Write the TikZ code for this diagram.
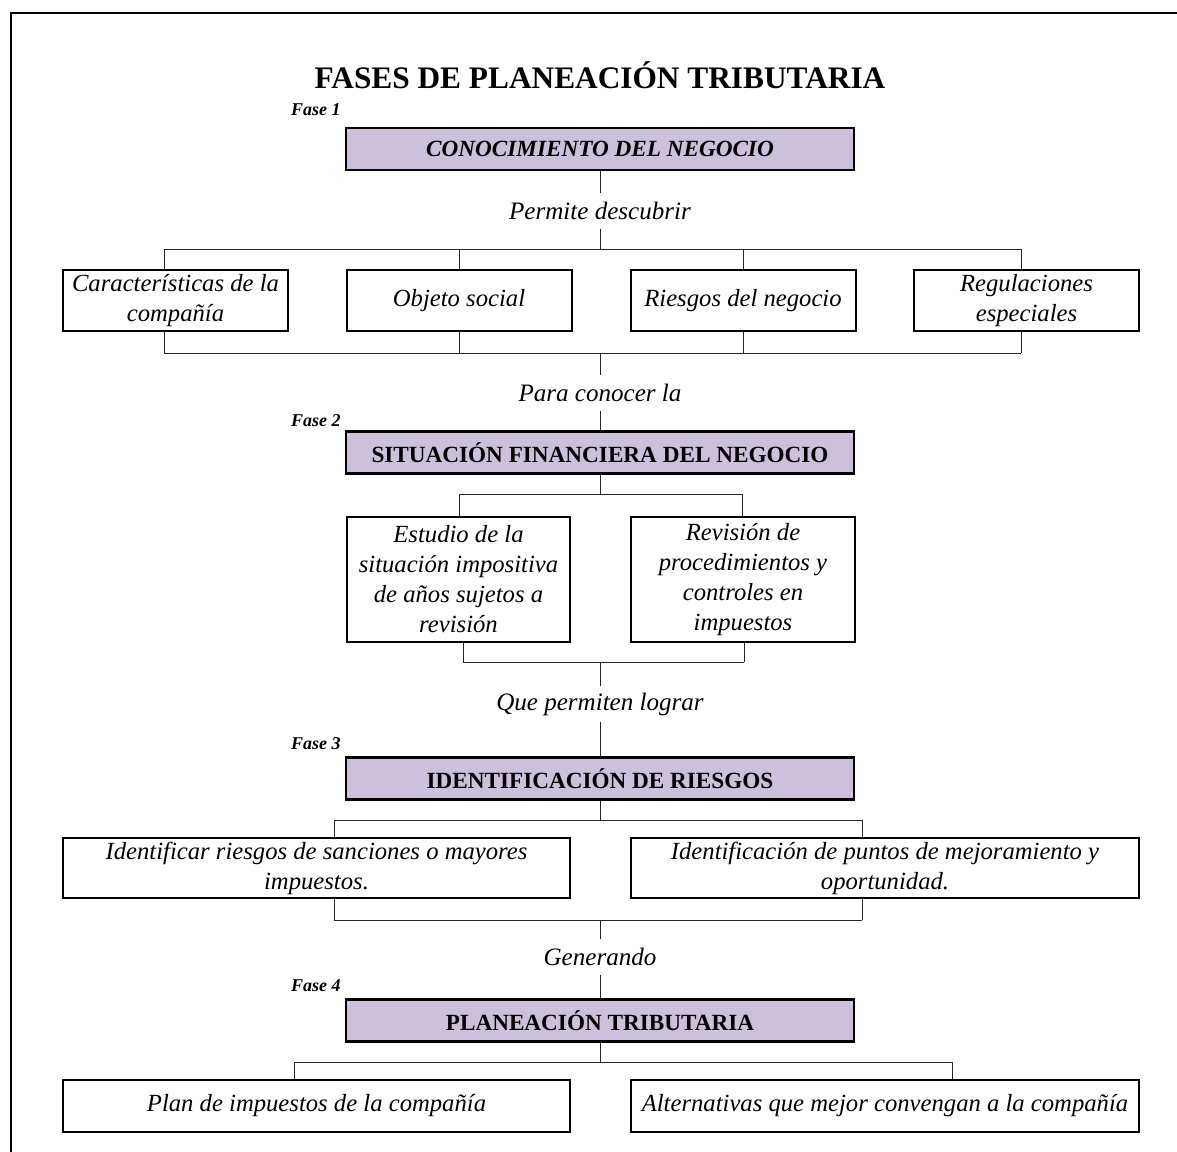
\documentclass[tikz,border=0pt]{standalone}
\usepackage{fontspec}
\setmainfont{Liberation Serif}
\definecolor{lav}{RGB}{204,192,218}
\begin{document}
\begin{tikzpicture}[x=0.75pt,y=-0.75pt,
  frame/.style={line width=1.6pt},
  conn/.style={line width=0.7pt,black!85},
  phase/.style={draw,line width=2.2pt,fill=lav,minimum width=381pt,minimum height=31.5pt,inner sep=0pt,font=\fontsize{17.4}{20}\selectfont\bfseries},
  box/.style={draw,line width=1.5pt,fill=white,inner sep=0pt,align=center,font=\fontsize{18.5}{22.5}\selectfont\itshape},
  lab/.style={inner sep=0pt,minimum height=27pt,font=\fontsize{18.8}{22.5}\selectfont\itshape},
  fase/.style={inner sep=0pt,anchor=east,font=\fontsize{13.5}{16}\selectfont\bfseries\itshape},
  titlestyle/.style={inner sep=0pt,font=\fontsize{23.5}{28}\selectfont\bfseries}]
\useasboundingbox (0,0) rectangle (1177,1152);
% frame
\draw[frame] (11,1152) -- (11,13) -- (1177,13);
% title
\node[titlestyle] (title) at (600,75) {FASES DE PLANEACIÓN TRIBUTARIA};
% Phase 1
\node[fase] (f1) at (341,110) {Fase 1};
\node[phase] (p1) at (600,149) {\itshape CONOCIMIENTO DEL NEGOCIO};
\node[lab] (l1) at (600,211) {Permite descubrir};
\coordinate (u1L) at (164,249);
\coordinate (u1R) at (1021,249);
\node[box,minimum width=168.75pt,minimum height=45.75pt] (a1) at (175.5,300.5) {Características de la\\compañía};
\node[box,minimum width=168.75pt,minimum height=45.75pt] (a2) at (459,300.5) {Objeto social};
\node[box,minimum width=168.75pt,minimum height=45.75pt] (a3) at (743,300.5) {Riesgos del negocio};
\node[box,minimum width=168.75pt,minimum height=45.75pt] (a4) at (1026.5,300.5) {Regulaciones\\especiales};
\coordinate (d1L) at (164,353);
\coordinate (d1R) at (1021,353);
\draw[conn] (p1.south) -- (l1.north);
\draw[conn] (l1.south) -- (l1.south |- u1L);
\draw[conn] (u1L) -- (u1R);
\draw[conn] (u1L) -- (u1L |- a1.north);
\draw[conn] (a2.north) -- (a2.north |- u1L);
\draw[conn] (a3.north) -- (a3.north |- u1L);
\draw[conn] (u1R) -- (u1R |- a4.north);
\draw[conn] (d1L) -- (d1L |- a1.south);
\draw[conn] (a2.south) -- (a2.south |- d1L);
\draw[conn] (a3.south) -- (a3.south |- d1L);
\draw[conn] (d1R) -- (d1R |- a4.south);
\draw[conn] (d1L) -- (d1R);
% Phase 2
\node[lab] (l2) at (600,393) {Para conocer la};
\node[fase] (f2) at (341,421) {Fase 2};
\node[phase] (p2) at (600,452.5) {SITUACIÓN FINANCIERA DEL NEGOCIO};
\draw[conn] (l2.north |- d1L) -- (l2.north);
\draw[conn] (l2.south) -- (p2.north);
\node[box,minimum width=167.25pt,minimum height=93.75pt] (b1) at (458.5,579.5) {Estudio de la\\situación impositiva\\de años sujetos a\\revisión};
\node[box,minimum width=168pt,minimum height=93.75pt] (b2) at (743,579.5) {Revisión de\\procedimientos y\\controles en\\impuestos};
\coordinate (u2L) at (459,494);
\coordinate (u2R) at (742,494);
\coordinate (d2L) at (463,662);
\coordinate (d2R) at (744,662);
\draw[conn] (p2.south) -- (p2.south |- u2L);
\draw[conn] (u2L) -- (u2R);
\draw[conn] (u2L) -- (u2L |- b1.north);
\draw[conn] (u2R) -- (u2R |- b2.north);
\draw[conn] (d2L) -- (d2L |- b1.south);
\draw[conn] (d2R) -- (d2R |- b2.south);
\draw[conn] (d2L) -- (d2R);
% Phase 3
\node[lab] (l3) at (600,704) {Que permiten lograr};
\node[fase] (f3) at (341,744) {Fase 3};
\node[phase] (p3) at (600,778.5) {IDENTIFICACIÓN DE RIESGOS};
\draw[conn] (l3.north |- d2L) -- (l3.north);
\draw[conn] (l3.south) -- (p3.north);
\node[box,minimum width=380.25pt,minimum height=45pt] (c1) at (316.5,868) {Identificar riesgos de sanciones o mayores\\impuestos.};
\node[box,minimum width=381pt,minimum height=45pt] (c2) at (885,868) {Identificación de puntos de mejoramiento y\\oportunidad.};
\coordinate (u3L) at (334,820);
\coordinate (u3R) at (862,820);
\coordinate (d3L) at (334,920);
\coordinate (d3R) at (862,920);
\draw[conn] (p3.south) -- (p3.south |- u3L);
\draw[conn] (u3L) -- (u3R);
\draw[conn] (u3L) -- (u3L |- c1.north);
\draw[conn] (u3R) -- (u3R |- c2.north);
\draw[conn] (d3L) -- (d3L |- c1.south);
\draw[conn] (d3R) -- (d3R |- c2.south);
\draw[conn] (d3L) -- (d3R);
% Phase 4
\node[lab] (l4) at (600,957) {Generando};
\node[fase] (f4) at (341,986) {Fase 4};
\node[phase] (p4) at (600,1020.5) {PLANEACIÓN TRIBUTARIA};
\draw[conn] (l4.north |- d3L) -- (l4.north);
\draw[conn] (l4.south) -- (p4.north);
\node[box,minimum width=380.25pt,minimum height=39pt] (e1) at (316.5,1106) {Plan de impuestos de la compañía};
\node[box,minimum width=381pt,minimum height=39pt] (e2) at (885,1106) {Alternativas que mejor convengan a la compañía};
\coordinate (u4L) at (294,1062);
\coordinate (u4R) at (952,1062);
\draw[conn] (p4.south) -- (p4.south |- u4L);
\draw[conn] (u4L) -- (u4R);
\draw[conn] (u4L) -- (u4L |- e1.north);
\draw[conn] (u4R) -- (u4R |- e2.north);
\end{tikzpicture}
\end{document}
